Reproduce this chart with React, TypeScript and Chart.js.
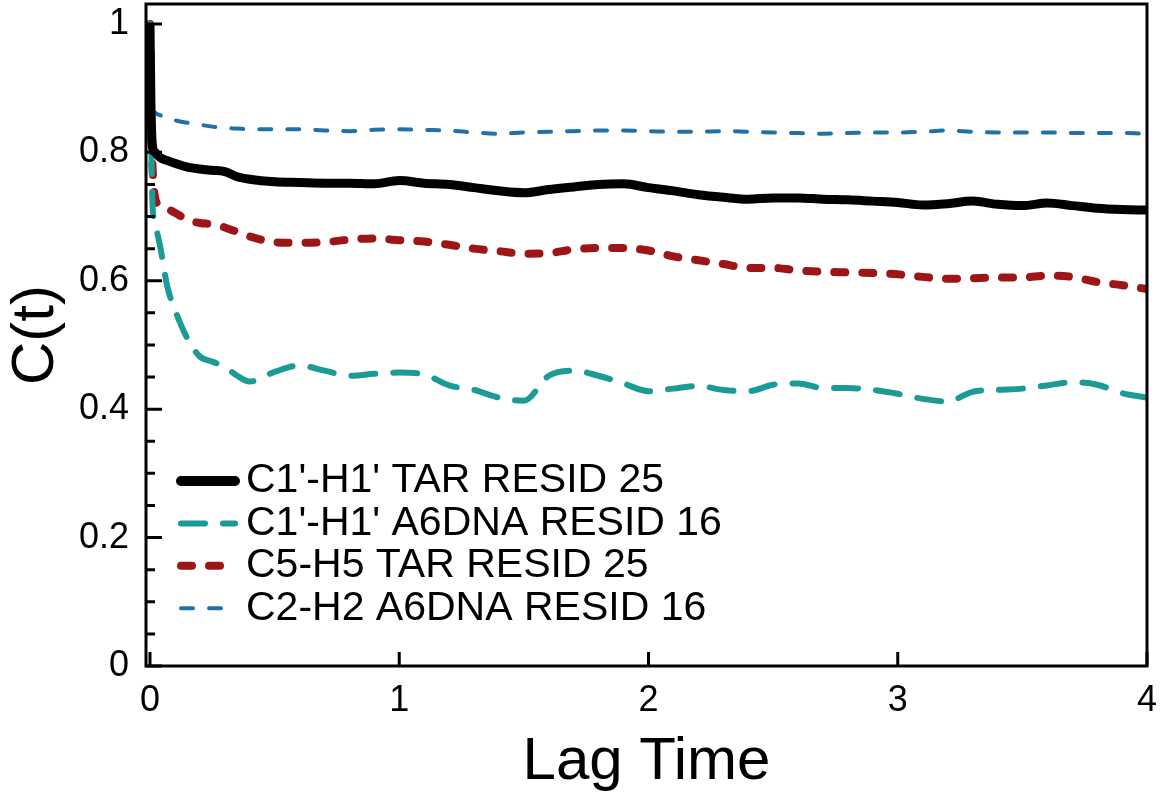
import React, { useEffect, useRef } from "react";
import { Chart, registerables } from "chart.js";

Chart.register(...registerables);

// ---------------- data ----------------
const lagTime = [
  0, 0.004, 0.01, 0.02, 0.04, 0.07, 0.1, 0.15, 0.2, 0.25, 0.3, 0.35, 0.4,
  0.5, 0.6, 0.7, 0.8, 0.9, 1.0,
  1.1, 1.2, 1.3, 1.4, 1.5,
  1.6, 1.7, 1.8, 1.9, 2.0,
  2.1, 2.2, 2.3, 2.4, 2.5,
  2.6, 2.7, 2.8, 2.9, 3.0,
  3.1, 3.2, 3.3, 3.4, 3.5,
  3.6, 3.7, 3.8, 3.9, 4.0,
];

const c1h1Tar25 = [
  1.0, 0.87, 0.81, 0.8, 0.792, 0.787, 0.783, 0.777, 0.774, 0.772, 0.77, 0.762, 0.758,
  0.754, 0.753, 0.752, 0.752, 0.751, 0.756,
  0.752, 0.75, 0.745, 0.74, 0.737,
  0.742, 0.746, 0.75, 0.751, 0.745,
  0.74, 0.734, 0.73, 0.727, 0.729,
  0.729, 0.727, 0.726, 0.724, 0.722,
  0.718, 0.72, 0.724, 0.719, 0.717,
  0.721, 0.717, 0.713, 0.711, 0.71,
];

const c1h1A6dna16 = [
  1.0, 0.85, 0.72, 0.69, 0.655, 0.59, 0.555, 0.51, 0.482, 0.474, 0.466, 0.452, 0.443,
  0.458, 0.468, 0.46, 0.452, 0.455, 0.457,
  0.454, 0.437, 0.43, 0.418, 0.413,
  0.452, 0.46, 0.452, 0.44, 0.428,
  0.432, 0.436, 0.43, 0.428, 0.438,
  0.44, 0.433, 0.433, 0.43, 0.424,
  0.416, 0.412, 0.427, 0.43, 0.432,
  0.437, 0.442, 0.438, 0.425, 0.418,
];

const c5h5Tar25 = [
  1.0, 0.86, 0.78, 0.73, 0.717, 0.712, 0.706, 0.695, 0.69, 0.688, 0.683, 0.676, 0.669,
  0.66, 0.659, 0.66, 0.664, 0.666, 0.663,
  0.661, 0.656, 0.65, 0.646, 0.642,
  0.643, 0.649, 0.651, 0.651, 0.647,
  0.638, 0.632, 0.626, 0.62, 0.62,
  0.616, 0.614, 0.613, 0.612, 0.61,
  0.606, 0.603, 0.604, 0.605, 0.605,
  0.608, 0.606, 0.598, 0.593, 0.587,
];

const c2h2A6dna16 = [
  1.0, 0.9, 0.87, 0.862, 0.858, 0.854, 0.85, 0.846, 0.843, 0.84, 0.838, 0.837, 0.836,
  0.836, 0.836, 0.834, 0.833, 0.835, 0.836,
  0.835, 0.834, 0.831, 0.829, 0.831,
  0.832, 0.833, 0.834, 0.834, 0.833,
  0.832, 0.832, 0.833, 0.832, 0.831,
  0.83, 0.829, 0.83, 0.831, 0.831,
  0.832, 0.834, 0.832, 0.831, 0.831,
  0.831, 0.83, 0.83, 0.83, 0.829,
];

const seriesLabels = [
  "C1'-H1' TAR RESID 25",
  "C1'-H1' A6DNA RESID 16",
  "C5-H5 TAR RESID 25",
  "C2-H2 A6DNA RESID 16",
];

const xTickValues = [0, 1, 2, 3, 4];
const yTickValues = [0, 0.2, 0.4, 0.6, 0.8, 1];
const yMinorTickValues = [
  0.05, 0.1, 0.15, 0.25, 0.3, 0.35, 0.45, 0.5, 0.55, 0.65, 0.7, 0.75, 0.85, 0.9, 0.95,
];

const xTitle = "Lag Time";
const yTitle = "C(t)";

// ---------------- styles ----------------
const FONT = "'Liberation Sans', Arial, Helvetica, sans-serif";
const COLORS = ["#000000", "#1b9b96", "#9d1516", "#2170a6"];
const WIDTHS = [9, 6, 8, 4];
const DASHES: number[][] = [[], [24, 18], [11, 17], [12, 16]];

const seriesValues = [c1h1Tar25, c1h1A6dna16, c5h5Tar25, c2h2A6dna16];

const frameTicksPlugin = {
  id: "frameTicks",
  afterDatasetsDraw(chart: any) {
    const ctx = chart.ctx as CanvasRenderingContext2D;
    const { left, right, top, bottom } = chart.chartArea;
    const xs = chart.scales.x;
    const ys = chart.scales.y;
    ctx.save();
    ctx.strokeStyle = "#000";
    ctx.lineWidth = 3;
    ctx.setLineDash([]);
    ctx.lineCap = "butt";
    ctx.strokeRect(left, top, right - left, bottom - top);
    ctx.beginPath();
    yTickValues.forEach((v) => {
      const py = ys.getPixelForValue(v);
      ctx.moveTo(left, py);
      ctx.lineTo(left + 16, py);
    });
    yMinorTickValues.forEach((v) => {
      const py = ys.getPixelForValue(v);
      ctx.moveTo(left, py);
      ctx.lineTo(left + 9, py);
    });
    xTickValues.forEach((v) => {
      const px = xs.getPixelForValue(v);
      ctx.moveTo(px, bottom);
      ctx.lineTo(px, bottom - 14);
    });
    ctx.stroke();
    ctx.restore();
  },
};

const legendPlugin = {
  id: "insideLegend",
  afterDraw(chart: any) {
    const ctx = chart.ctx as CanvasRenderingContext2D;
    const { left, bottom } = chart.chartArea;
    ctx.save();
    const rowGap = 42.4;
    const firstRowY = bottom - 185;
    const lineX0 = left + 35;
    const lineX1 = left + 89;
    const textX = left + 100;
    chart.data.datasets.forEach((ds: any, i: number) => {
      const y = firstRowY + i * rowGap;
      ctx.beginPath();
      ctx.strokeStyle = ds.borderColor;
      ctx.lineWidth = i === 0 ? 10 : ds.borderWidth;
      ctx.lineCap = "round";
      ctx.setLineDash(ds.borderDash || []);
      ctx.moveTo(lineX0, y);
      ctx.lineTo(lineX1, y);
      ctx.stroke();
      ctx.setLineDash([]);
      ctx.fillStyle = "#000";
      ctx.font = `41px ${FONT}`;
      ctx.textBaseline = "middle";
      ctx.textAlign = "left";
      ctx.fillText(ds.label, textX, y);
    });
    ctx.restore();
  },
};

export default function App() {
  const canvasRef = useRef<HTMLCanvasElement | null>(null);

  useEffect(() => {
    if (!canvasRef.current) return;
    const datasets = seriesValues.map((vals, i) => ({
      label: seriesLabels[i],
      data: lagTime.map((t, k) => ({ x: t, y: vals[k] })),
      borderColor: COLORS[i],
      backgroundColor: COLORS[i],
      borderWidth: WIDTHS[i],
      borderDash: DASHES[i],
      borderCapStyle: i === 0 ? "butt" : "round",
      borderJoinStyle: "round",
      pointRadius: 0,
      cubicInterpolationMode: "monotone",
      fill: false,
    }));

    const chart = new Chart(canvasRef.current, {
      type: "line",
      data: { datasets: datasets as any },
      options: {
        animation: false,
        responsive: false,
        maintainAspectRatio: false,
        layout: { padding: { top: 4, right: 15, left: 0, bottom: 0 } },
        plugins: {
          legend: { display: false },
          tooltip: { enabled: false },
        },
        scales: {
          x: {
            type: "linear",
            min: -0.016,
            max: 4,
            grid: { display: false, drawTicks: false },
            border: { display: false },
            ticks: {
              stepSize: 1,
              includeBounds: false,
              color: "#000",
              padding: 13,
              maxRotation: 0,
              font: { family: FONT, size: 36 },
              callback: (v: any) => String(v),
            },
            title: {
              display: true,
              text: xTitle,
              color: "#000",
              font: { family: FONT, size: 60 },
              padding: { top: 0, bottom: 3 },
            },
            afterFit: (s: any) => {
              s.height = 135;
              s.paddingLeft = 0;
              s.paddingRight = 0;
            },
          },
          y: {
            type: "linear",
            min: 0,
            max: 1.031,
            grid: { display: false, drawTicks: false },
            border: { display: false },
            ticks: {
              stepSize: 0.2,
              includeBounds: false,
              color: "#000",
              padding: 17,
              font: { family: FONT, size: 36 },
              callback: (v: any) => String(Number(Number(v).toFixed(1))),
            },
            title: {
              display: true,
              text: yTitle,
              color: "#000",
              font: { family: FONT, size: 60 },
              padding: { top: 0, bottom: 0 },
            },
            afterFit: (s: any) => {
              s.width = 146;
              s.paddingTop = 0;
              s.paddingBottom = 0;
            },
          },
        },
      },
      plugins: [frameTicksPlugin, legendPlugin],
    });
    return () => chart.destroy();
  }, []);

  return (
    <div style={{ position: "absolute", left: 0, top: 0, width: 1162, height: 801, background: "#fff" }}>
      <canvas ref={canvasRef} width={1162} height={801} style={{ display: "block" }} />
    </div>
  );
}
